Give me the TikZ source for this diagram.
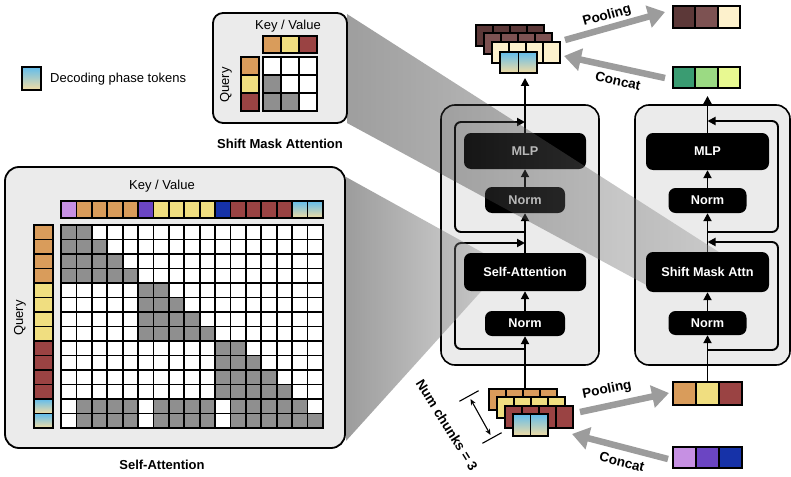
\documentclass[tikz,border=0pt]{standalone}
\usepackage{fontspec}
\setmainfont{Liberation Sans}
\usetikzlibrary{arrows.meta}
\definecolor{panelbg}{HTML}{EBEBEB}
\definecolor{tkorange}{HTML}{D99C5B}
\definecolor{tkyellow}{HTML}{F0DE80}
\definecolor{tkred}{HTML}{9A4343}
\definecolor{tkpurple}{HTML}{C690E3}
\definecolor{tkindigo}{HTML}{6B45C3}
\definecolor{tkblue}{HTML}{1632A8}
\definecolor{tkbrownD}{HTML}{5C3838}
\definecolor{tkbrownM}{HTML}{7D5252}
\definecolor{tkcream}{HTML}{FDF1CC}
\definecolor{tkgreenD}{HTML}{3A9C72}
\definecolor{tkgreenM}{HTML}{9BDA83}
\definecolor{tkgreenL}{HTML}{E8F991}
\definecolor{decTop}{HTML}{62BDEC}
\definecolor{decBot}{HTML}{F3DCA2}
\definecolor{maskgray}{HTML}{8F8F8F}
\definecolor{fatgray}{HTML}{9C9C9C}
\pgfdeclarelayer{bandlayer}
\pgfdeclarelayer{toplayer}
\pgfsetlayers{main,bandlayer,toplayer}
\tikzset{
  cell/.style={draw=black, line width=1.8pt},
  dec/.style={cell, top color=decTop, bottom color=decBot},
  panel/.style={draw=black, line width=1.8pt, fill=panelbg, rounded corners=14pt},
  blockpanel/.style={draw=black, line width=1.6pt, fill=panelbg, rounded corners=14pt},
  bbox/.style={fill=black, rounded corners=7pt, text=white, font=\fontsize{12.7}{14}\selectfont\bfseries, inner sep=0pt},
  arr/.style={line width=1.9pt, -{Triangle[length=8pt,width=8pt]}},
  loopline/.style={line width=1.9pt, rounded corners=6pt, -{Triangle[length=8pt,width=8pt]}},
  fat/.style={draw=fatgray, line width=6.5pt, -{Triangle[length=17pt,width=22pt]}},
  lbl/.style={font=\fontsize{13}{15}\selectfont, inner sep=0pt},
  blbl/.style={font=\fontsize{13}{15}\selectfont\bfseries, inner sep=0pt},
  flbl/.style={font=\fontsize{13.5}{15}\selectfont\bfseries, inner sep=0pt},
}
\begin{document}
\begin{tikzpicture}[x=1pt,y=-1pt]
\useasboundingbox (0,0) rectangle (791,476);
% ---------- legend
\draw[dec, line width=2.2pt] (22,67) rectangle (41,90);
\node[lbl, anchor=west] (legtxt) at (50,79) {Decoding phase tokens};
% ---------- small panel (shift mask attention)
\draw[panel, rounded corners=10pt] (213,13) rectangle (347,123);
\node[lbl] (kvsm) at (288,26) {Key / Value};
\node[lbl, rotate=90] (qsm) at (226,85) {Query};
\foreach \i/\col in {0/tkorange,1/tkyellow,2/tkred} {
  \draw[cell, fill=\col] ({263+18*\i},36) rectangle ++(18,17);
  \draw[cell, fill=\col] (241,{57+18*\i}) rectangle ++(18,18);
}
\foreach \r in {0,1,2} \foreach \c in {0,1,2}
  \draw[cell, fill=white] ({263+18*\c},{57+18*\r}) rectangle ++(18,18);
\foreach \r/\c in {1/0,2/0,2/1}
  \draw[cell, fill=maskgray] ({263+18*\c},{57+18*\r}) rectangle ++(18,18);
\node[blbl] (smcap) at (280,144) {Shift Mask Attention};
% ---------- big panel (self-attention)
\draw[panel] (5,167) rectangle (345,448);
\node[lbl] (kvbig) at (162,186) {Key / Value};
\node[lbl, rotate=90] (qbig) at (20,318) {Query};
\foreach \c/\col in {0/tkpurple,1/tkorange,2/tkorange,3/tkorange,4/tkorange,5/tkindigo,6/tkyellow,7/tkyellow,8/tkyellow,9/tkyellow,10/tkblue,11/tkred,12/tkred,13/tkred,14/tkred}
  \draw[cell, fill=\col] ({61+15.412*\c},201) rectangle ++(15.412,17);
\foreach \c in {15,16}
  \draw[dec] ({61+15.412*\c},201) rectangle ++(15.412,17);
\foreach \r/\col in {0/tkorange,1/tkorange,2/tkorange,3/tkorange,4/tkyellow,5/tkyellow,6/tkyellow,7/tkyellow,8/tkred,9/tkred,10/tkred,11/tkred}
  \draw[cell, fill=\col] (34,{225+14.5*\r}) rectangle ++(19,14.5);
\foreach \r in {12,13}
  \draw[dec] (34,{225+14.5*\r}) rectangle ++(19,14.5);
\foreach \c in {0,...,16} \foreach \r in {0,...,13}
  \draw[cell, fill=white] ({61+15.412*\c},{225+14.5*\r}) rectangle ++(15.412,14.5);
\foreach \r/\cs in {0/{0,1},1/{0,1,2},2/{0,1,2,3},3/{0,1,2,3,4},4/{5,6},5/{5,6,7},6/{5,6,7,8},7/{5,6,7,8,9},8/{10,11},9/{10,11,12},10/{10,11,12,13},11/{10,11,12,13,14},12/{1,2,3,4,6,7,8,9,11,12,13,14,15},13/{1,2,3,4,6,7,8,9,11,12,13,14,15,16}}
  \foreach \c in \cs
    \draw[cell, fill=maskgray] ({61+15.412*\c},{225+14.5*\r}) rectangle ++(15.412,14.5);
\draw[line width=2.2pt] (61,225) rectangle (323,428);
\node[blbl] (sacap) at (162,465) {Self-Attention};
% ---------- transformer blocks
\draw[blockpanel] (441,105) rectangle (599,365);
\draw[blockpanel] (635,105) rectangle (790,365);
\node[bbox, minimum width=122pt, minimum height=36pt] (mlpL) at (525,151) {MLP};
\node[bbox, minimum width=80pt, minimum height=26pt] (normUL) at (525,200) {Norm};
\node[bbox, minimum width=80pt, minimum height=25pt] (normLL) at (525,323.5) {Norm};
\node[bbox, minimum width=123pt, minimum height=37pt] (mlpR) at (707.5,151.5) {MLP};
\node[bbox, minimum width=78pt, minimum height=25pt] (normUR) at (707.5,200.5) {Norm};
\node[bbox, minimum width=78pt, minimum height=24pt] (normLR) at (707.5,323) {Norm};
\begin{pgfonlayer}{toplayer}
\node[bbox, minimum width=122pt, minimum height=38pt] (saL) at (525,272) {Self-Attention};
\node[bbox, minimum width=123pt, minimum height=40pt] (smaR) at (707.5,272) {Shift Mask Attn};
\end{pgfonlayer}
% ---------- token stacks
\foreach \i in {0,...,3} {
  \draw[cell, fill=tkbrownD] ({476+17*\i},25) rectangle ++(17,21);
}
\foreach \i in {0,...,3} {
  \draw[cell, fill=tkbrownM] ({484+17*\i},33) rectangle ++(17,21);
}
\foreach \i in {0,...,3} {
  \draw[cell, fill=tkcream] ({492+17*\i},42) rectangle ++(17,21);
}
\foreach \i in {0,1} {
  \draw[dec] ({500+18.5*\i},52) rectangle ++(18.5,21);
}
\foreach \i in {0,...,3} {
  \draw[cell, fill=tkorange] ({489+17*\i},389) rectangle ++(17,21);
}
\foreach \i in {0,...,3} {
  \draw[cell, fill=tkyellow] ({497+17*\i},397) rectangle ++(17,21);
}
\foreach \i in {0,...,3} {
  \draw[cell, fill=tkred] ({505+17*\i},406) rectangle ++(17,22);
}
\foreach \i in {0,1} {
  \draw[dec] ({513+17.5*\i},414) rectangle ++(17.5,22);
}
% pooled / concat rows
\foreach \i/\col in {0/tkbrownD,1/tkbrownM,2/tkcream}
  \draw[cell, fill=\col] ({673+22.33*\i},6) rectangle ++(22.33,22);
\foreach \i/\col in {0/tkgreenD,1/tkgreenM,2/tkgreenL}
  \draw[cell, fill=\col] ({673+22.33*\i},67) rectangle ++(22.33,21);
\foreach \i/\col in {0/tkorange,1/tkyellow,2/tkred}
  \draw[cell, fill=\col] ({673+23*\i},382) rectangle ++(23,23);
\foreach \i/\col in {0/tkpurple,1/tkindigo,2/tkblue}
  \draw[cell, fill=\col] ({673+23*\i},447) rectangle ++(23,21);
% ---------- coordinates
\coordinate (inL) at (525,389);
\coordinate (outL) at (525,78);
\coordinate (inR) at (707.5,382);
\coordinate (outR) at (707.5,96);
\coordinate (brL1) at (525,232);
\coordinate (jL1) at (525,122);
\coordinate (brL2) at (525,349);
\coordinate (jL2) at (525,243);
\coordinate (brR1) at (707.5,232);
\coordinate (jR1) at (707.5,121);
\coordinate (brR2) at (707.5,350);
\coordinate (jR2) at (707.5,242);
% ---------- block arrows
\draw[arr] (inL) -- (normLL);
\draw[arr] (normLL) -- (saL);
\draw[arr] (saL) -- (normUL);
\draw[arr] (normUL) -- (mlpL);
\draw[arr] (mlpL) -- (outL);
\draw[arr] (inR) -- (normLR);
\draw[arr] (normLR) -- (smaR);
\draw[arr] (smaR) -- (normUR);
\draw[arr] (normUR) -- (mlpR);
\draw[arr] (mlpR) -- (outR);
\draw[loopline] (brL1) -- ++(-70,0) |- (jL1);
\draw[loopline] (brL2) -- ++(-70,0) |- (jL2);
\draw[loopline] (brR1) -- ++(70.5,0) |- (jR1);
\draw[loopline] (brR2) -- ++(70.5,0) |- (jR2);
% ---------- pooling / concat arrows
\coordinate (poolTs) at (565,40);
\coordinate (poolTe) at (665,12);
\coordinate (catTs) at (665,78);
\coordinate (catTe) at (564,56);
\coordinate (poolBs) at (580,412);
\coordinate (poolBe) at (669,393);
\coordinate (catBs) at (668,459);
\coordinate (catBe) at (572,434);
\draw[fat] (poolTs) -- (poolTe);
\draw[fat] (catTs) -- (catTe);
\draw[fat] (poolBs) -- (poolBe);
\draw[fat] (catBs) -- (catBe);
\node[flbl, rotate=15.5] (poolT) at (607,16) {Pooling};
\node[flbl, rotate=-12.5] (catT) at (618,81) {Concat};
\node[flbl, rotate=11] (poolB) at (607,390) {Pooling};
\node[flbl, rotate=-14] (catB) at (622,462) {Concat};
% ---------- num chunks
\node[flbl, rotate=-58] (nchunk) at (447,425) {Num chunks = 3};
\coordinate (tk1a) at (459.4,401.3);
\coordinate (tk1b) at (478.6,390.7);
\coordinate (tk2a) at (482.4,443.3);
\coordinate (tk2b) at (501.6,432.7);
\coordinate (nca) at (470.5,399);
\coordinate (ncb) at (490.5,435);
\draw[line width=1.1pt] (tk1a) -- (tk1b);
\draw[line width=1.1pt] (tk2a) -- (tk2b);
\draw[line width=1.1pt, {Stealth[length=6pt,width=5pt]}-{Stealth[length=6pt,width=5pt]}] (nca) -- (ncb);
% ---------- projection bands
\begin{pgfonlayer}{bandlayer}
\path[fill opacity=0.4, left color=black!95, right color=black!40] (347,14) -- (347,123) -- (650,287) -- (722,254) -- cycle;
\path[fill opacity=0.4, left color=black!97, right color=black!35] (346,177) -- (346,441) -- (505,265) -- cycle;
\end{pgfonlayer}
\end{tikzpicture}
\end{document}
